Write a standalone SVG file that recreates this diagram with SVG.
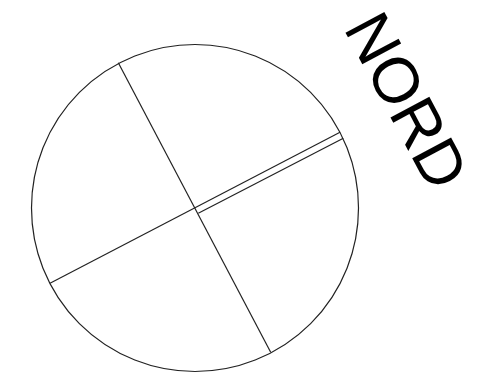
<svg xmlns="http://www.w3.org/2000/svg" width="477" height="376" viewBox="0 0 477 376">
<style>
.ln{fill:none;stroke:#222;stroke-width:1.2}
.lbl{font-family:"Liberation Sans",Arial,sans-serif;font-size:64px;fill:#000}
</style>
<rect width="477" height="376" fill="#fff"/>
<g id="compass">
<circle class="ln" cx="195" cy="208" r="163.5"/>
<line class="ln" x1="118.3" y1="62.7" x2="270.7" y2="352.3"/>
<line class="ln" x1="50" y1="283.3" x2="340" y2="132.3"/>
<line class="ln" x1="198.3" y1="213.3" x2="343.3" y2="138.3"/>
</g>
<g id="nord">
<text class="lbl" transform="translate(343 28) rotate(62)">NORD</text>
</g>
</svg>
